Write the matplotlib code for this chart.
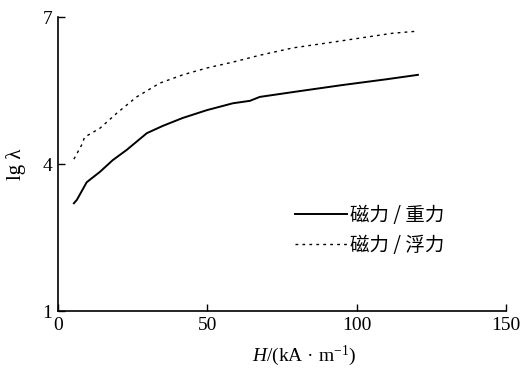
import numpy as np
import matplotlib
matplotlib.use("Agg")
import matplotlib.pyplot as plt

# --- data ---
h_gravity = [5.4, 6.4, 9.7, 14.1, 18.4, 23.1, 29.8, 35.2, 41.8, 49.9, 58.6, 64.3, 67.6, 80, 95, 110, 120.5]
lg_gravity = [3.20, 3.27, 3.63, 3.84, 4.08, 4.29, 4.63, 4.78, 4.94, 5.10, 5.24, 5.29, 5.37, 5.48, 5.61, 5.73, 5.82]

h_buoy = [5.4, 8.0, 9.0, 14.1, 19.8, 26.4, 34.1, 41.8, 49.9, 58.6, 67.6, 78.7, 90.1, 101.1, 112.2, 120.2]
lg_buoy = [4.10, 4.39, 4.55, 4.73, 5.04, 5.37, 5.65, 5.82, 5.96, 6.08, 6.22, 6.37, 6.47, 6.57, 6.67, 6.71]

labels = ["磁力 / 重力", "磁力 / 浮力"]
x_ticks = [0, 50, 100, 150]
y_ticks = [1, 4, 7]

# --- fonts ---
plt.rcParams['font.family'] = ['Liberation Serif', 'Noto Sans CJK SC']
plt.rcParams['mathtext.fontset'] = 'custom'
plt.rcParams['mathtext.rm'] = 'Liberation Serif'
plt.rcParams['mathtext.it'] = 'Liberation Serif:italic'

fig = plt.figure(figsize=(5.25, 3.78), dpi=100)
ax = fig.add_axes([0.110, 0.177, 0.854, 0.778])

ax.plot(h_gravity, lg_gravity, color='black', linewidth=1.4, label=labels[0])
ax.plot(h_buoy, lg_buoy, color='black', linewidth=1.0, dashes=(2, 3), label=labels[1])

ax.set_xlim(0, 150)
ax.set_ylim(1, 7)
ax.set_xticks(x_ticks)
ax.set_yticks(y_ticks)
ax.tick_params(direction='in', length=5, width=1, labelsize=14, pad=4)

for s in ['top', 'right']:
    ax.spines[s].set_visible(False)
for s in ['left', 'bottom']:
    ax.spines[s].set_linewidth(1.2)

ax.set_xlabel(r'$H$/(kA · m$^{-1}$)', fontsize=14)
ax.xaxis.set_label_coords(0.55, -0.11)
ax.set_ylabel('lg λ', fontsize=15)
ax.yaxis.set_label_coords(-0.07, 0.5)

leg = ax.legend(loc='upper left', bbox_to_anchor=(0.49, 0.42), frameon=False,
                handlelength=2.7, handletextpad=0.15, labelspacing=0.45,
                prop={'family': ['Noto Sans CJK SC'], 'size': 14})

fig.savefig('out.png', dpi=100, facecolor='white')
